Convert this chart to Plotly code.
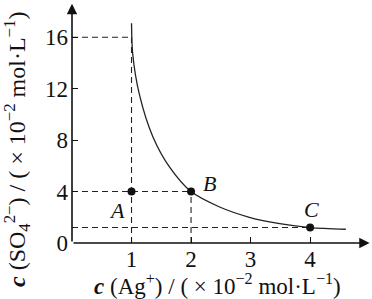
import plotly.graph_objects as go

# Data
curve_x = [1.0, 1.02, 1.13, 1.36, 1.64, 2.0, 2.48, 2.98, 3.49, 4.0, 4.6]
curve_y = [17.1, 14.7, 11.6, 8.25, 5.9, 4.0, 2.8, 2.0, 1.5, 1.2, 1.07]
point_names = ["A", "B", "C"]
point_x = [1, 2, 4]
point_y = [4, 4, 1.2]
top_level = 16
x_ticks = [1, 2, 3, 4]
y_ticks = [0, 4, 8, 12, 16]

FONT = "Liberation Serif, DejaVu Serif, serif"
X_MAX = 5.04
Y_MAX = 18.9
SP = "\u00a0"

fig = go.Figure()

# dashed guide lines
guides = [
    ([0, 1], [top_level, top_level]),
    ([1, 1], [0, top_level]),
    ([0, point_x[1]], [point_y[1], point_y[1]]),
    ([point_x[1], point_x[1]], [0, point_y[1]]),
    ([0, point_x[2]], [point_y[2], point_y[2]]),
]
for gx, gy in guides:
    fig.add_trace(go.Scatter(x=gx, y=gy, mode="lines",
                             line=dict(color="#222", width=1.1, dash="6px,4px"),
                             hoverinfo="skip", showlegend=False))

fig.add_trace(go.Scatter(x=curve_x, y=curve_y, mode="lines",
                         line=dict(color="#222", width=1.3, shape="spline", smoothing=0.8),
                         showlegend=False))

fig.add_trace(go.Scatter(x=point_x, y=point_y, mode="markers",
                         marker=dict(color="#111", size=8), showlegend=False))

# point labels
label_offsets = {"A": (-15, -19), "B": (18, 8), "C": (1, 18)}
for n, px, py in zip(point_names, point_x, point_y):
    dx, dy = label_offsets[n]
    fig.add_annotation(x=px, y=py, text=f"<i>{n}</i>", showarrow=False,
                       xshift=dx, yshift=dy, xanchor="center", yanchor="middle",
                       font=dict(family=FONT, size=22, color="#111"))

# axes with arrows
fig.add_annotation(x=0, y=18.6, ax=0, ay=0, xref="x", yref="y", axref="x", ayref="y",
                   showarrow=True, arrowhead=2, arrowsize=1.3, arrowwidth=1.6,
                   arrowcolor="#111", text="")
fig.add_annotation(x=5.0, y=0, ax=0, ay=0, xref="x", yref="y", axref="x", ayref="y",
                   showarrow=True, arrowhead=2, arrowsize=1.3, arrowwidth=1.6,
                   arrowcolor="#111", text="")

# axis titles
x_title = (f"<b><i>c</i></b>{SP}(Ag<sup>+</sup>){SP}/{SP}({SP}×{SP}10<sup>−2</sup>"
           f"{SP}mol·L<sup>−1</sup>)")
y_title = (f"<b><i>c</i></b>{SP}(SO<sub>4</sub><sup>2−</sup>){SP}/{SP}({SP}×{SP}10<sup>−2</sup>"
           f"{SP}mol·L<sup>−1</sup>)")
fig.add_annotation(xref="paper", yref="paper", x=(217 - 72) / 300, y=(243 - 284.5) / 243,
                   xanchor="center", yanchor="middle", text=x_title,
                   showarrow=False, font=dict(family=FONT, size=23, color="#111"))
fig.add_annotation(xref="paper", yref="paper", x=(17 - 72) / 300, y=(243 - 150) / 243,
                   xanchor="center", yanchor="middle", text=y_title,
                   textangle=-90, showarrow=False,
                   font=dict(family=FONT, size=24, color="#111"))

fig.update_xaxes(range=[0, X_MAX], tickvals=x_ticks, ticks="inside", ticklen=6,
                 tickcolor="#111", tickwidth=1.2, showgrid=False, zeroline=False,
                 showline=False, tickfont=dict(family=FONT, size=23, color="#111"))
fig.update_yaxes(range=[0, Y_MAX], tickvals=y_ticks, ticks="inside", ticklen=6,
                 tickcolor="#111", tickwidth=1.2, showgrid=False, zeroline=False,
                 showline=False, ticklabelstandoff=3,
                 tickfont=dict(family=FONT, size=23, color="#111"))

fig.update_layout(width=372, height=299, margin=dict(l=72, r=0, t=0, b=56),
                  plot_bgcolor="white", paper_bgcolor="white")

fig.write_html("out.html")
